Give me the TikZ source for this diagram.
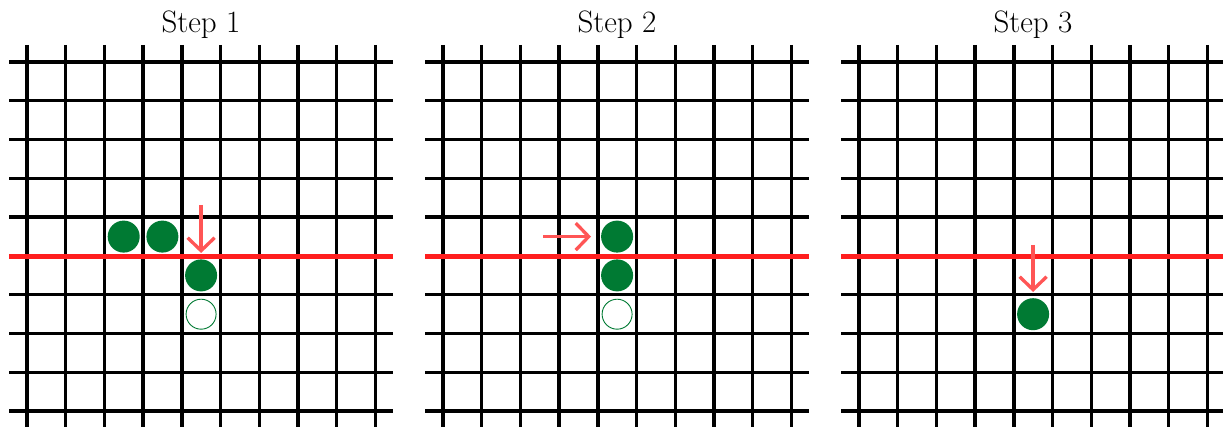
\documentclass[tikz,border=0pt]{standalone}
\usepackage{fontspec}
\usetikzlibrary{arrows.meta}
\definecolor{gridred}{RGB}{255,30,30}
\definecolor{arrred}{RGB}{255,85,85}
\definecolor{stonegreen}{RGB}{0,122,51}
\tikzset{
  gridline/.style={line width=3.4pt, black},
  redline/.style={line width=4.6pt, gridred},
  movearrow/.style={line width=3.3pt, arrred, -{Straight Barb[length=13pt,width=27pt]}},
  stone/.style={circle, fill=stonegreen, minimum size=32pt, inner sep=0pt, draw=none},
  emptystone/.style={circle, draw=stonegreen, line width=0.9pt, minimum size=30pt, inner sep=0pt, fill=white},
  title/.style={font=\fontsize{31}{37}\selectfont, anchor=base}
}
\begin{document}
\begin{tikzpicture}[x=1pt,y=-1pt]
\useasboundingbox (0,0) rectangle (1223,427);
\fill[white] (0,0) rectangle (1223,427);
\begin{scope}
\clip (0,0) rectangle (1223,427);
\foreach \p in {0,1,2}{
  \pgfmathsetmacro{\ox}{9+416*\p}
  \foreach \k in {0,...,9}{
    \draw[gridline] ({\ox+18+38.7*\k},45) -- ({\ox+18+38.7*\k},430);
    \draw[gridline] (\ox,{62+38.78*\k}) -- ({\ox+384},{62+38.78*\k});
  }
  \draw[redline] (\ox,256.5) -- ({\ox+384},256.5);
}
\end{scope}
% titles
\node[title] (t1) at (201,33) {Step 1};
\node[title] (t2) at (617,33) {Step 2};
\node[title] (t3) at (1033,33) {Step 3};
% panel 1
\node[stone] (a1) at (123.7,236.6) {};
\node[stone] (a2) at (162.4,236.6) {};
\node[stone] (a3) at (201.1,275.4) {};
\node[emptystone] (a4) at (201.1,314.2) {};
\coordinate (s1) at (201.1,205);
\coordinate (e1) at (201.1,253);
\draw[movearrow] (s1) -- (e1);
% panel 2
\node[stone] (b1) at (617.1,236.6) {};
\node[stone] (b2) at (617.1,275.4) {};
\node[emptystone] (b3) at (617.1,314.2) {};
\coordinate (s2) at (543,236.6);
\coordinate (e2) at (591,236.6);
\draw[movearrow] (s2) -- (e2);
% panel 3
\node[stone] (c1) at (1033.1,314.2) {};
\coordinate (s3) at (1033.1,245);
\coordinate (e3) at (1033.1,292);
\draw[movearrow] (s3) -- (e3);
\end{tikzpicture}
\end{document}
